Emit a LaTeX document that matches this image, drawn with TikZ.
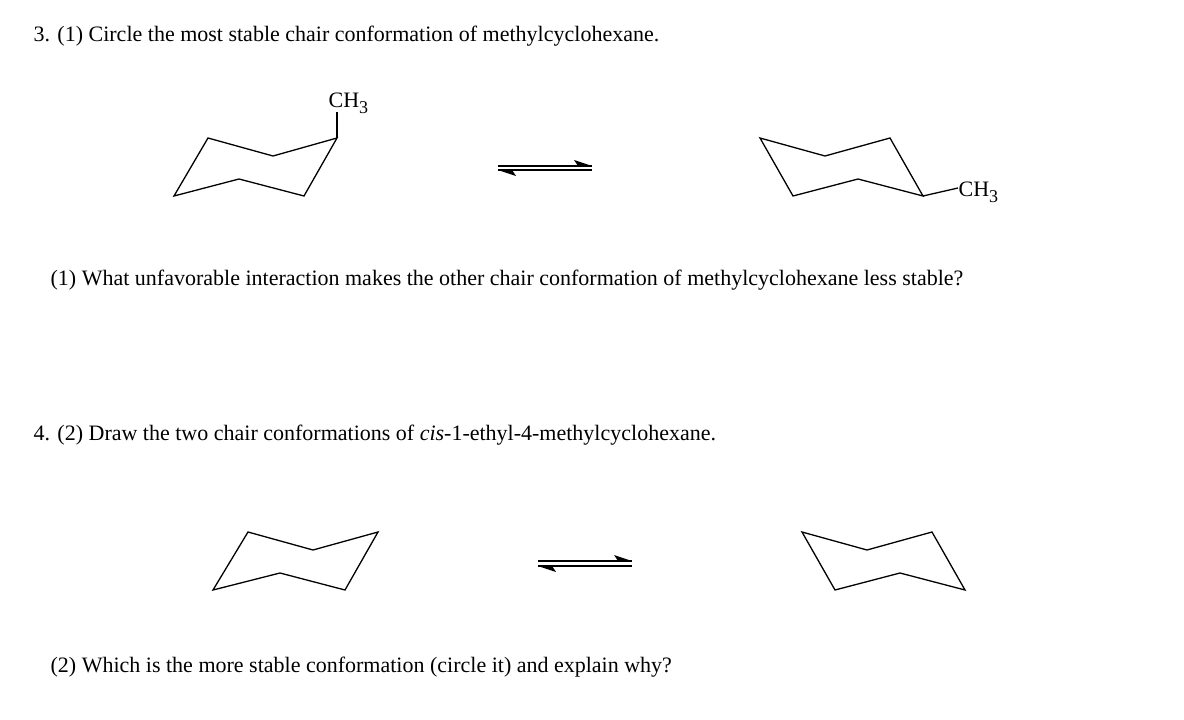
\documentclass[tikz,border=0pt]{standalone}
\usepackage{fontspec}
\setmainfont{Liberation Serif}
\newcommand{\chthree}{CH\raisebox{-0.3em}{\fontsize{18}{18}\selectfont 3}}
\begin{document}
\begin{tikzpicture}[x=1pt,y=-1pt,line width=1.3pt,line join=miter,
  txt/.style={anchor=west,inner sep=0pt,font=\fontsize{22}{26}\selectfont},
  lab/.style={inner sep=0pt,font=\fontsize{22}{26}\selectfont}]
\useasboundingbox (0,0) rectangle (1184,720);
% texts
\node[txt] (t1) at (33,36) {3. (1) Circle the most stable chair conformation of methylcyclohexane.};
\node[txt] (t2) at (50,280) {(1) What unfavorable interaction makes the other chair conformation of methylcyclohexane less stable?};
\node[txt] (t3) at (33,435) {4. (2) Draw the two chair conformations of \textit{cis}-1-ethyl-4-methylcyclohexane.};
\node[txt] (t4) at (50,667) {(2) Which is the more stable conformation (circle it) and explain why?};
% chair 1
\coordinate (a1) at (208,138); \coordinate (a2) at (273,156); \coordinate (a3) at (337,138);
\coordinate (a4) at (304,196); \coordinate (a5) at (239,179); \coordinate (a6) at (174,196);
\draw (a1)--(a2)--(a3)--(a4)--(a5)--(a6)--cycle;
\node[lab,anchor=base west] (m1) at (328,107) {\chthree};
\draw (a3)--(337,112);
% arrow 1
\coordinate (p1) at (498,166); \coordinate (p2) at (592,166);
\coordinate (q1) at (498,170); \coordinate (q2) at (592,170);
\draw (p1)--(p2); \draw (q1)--(q2);
\fill (p2)--(574,160)--(578,166)--cycle;
\fill (q1)--(516,176)--(512,170)--cycle;
% chair 2
\coordinate (b1) at (760,138); \coordinate (b2) at (825,156); \coordinate (b3) at (890,138);
\coordinate (b4) at (923,196); \coordinate (b5) at (858,179); \coordinate (b6) at (793,196);
\draw (b1)--(b2)--(b3)--(b4)--(b5)--(b6)--cycle;
\node[lab,anchor=base west] (m2) at (958,196) {\chthree};
\draw (b4)--(958,188);
% chair 3
\coordinate (c1) at (248,532); \coordinate (c2) at (313,550); \coordinate (c3) at (378,532);
\coordinate (c4) at (345,590); \coordinate (c5) at (280,573); \coordinate (c6) at (213,590);
\draw (c1)--(c2)--(c3)--(c4)--(c5)--(c6)--cycle;
% arrow 2
\coordinate (r1) at (538,561); \coordinate (r2) at (632,561);
\coordinate (s1) at (538,566); \coordinate (s2) at (632,566);
\draw (r1)--(r2); \draw (s1)--(s2);
\fill (r2)--(614,555)--(618,561)--cycle;
\fill (s1)--(556,572)--(552,566)--cycle;
% chair 4
\coordinate (d1) at (802,532); \coordinate (d2) at (867,550); \coordinate (d3) at (932,532);
\coordinate (d4) at (965,590); \coordinate (d5) at (900,573); \coordinate (d6) at (835,590);
\draw (d1)--(d2)--(d3)--(d4)--(d5)--(d6)--cycle;
\end{tikzpicture}
\end{document}
